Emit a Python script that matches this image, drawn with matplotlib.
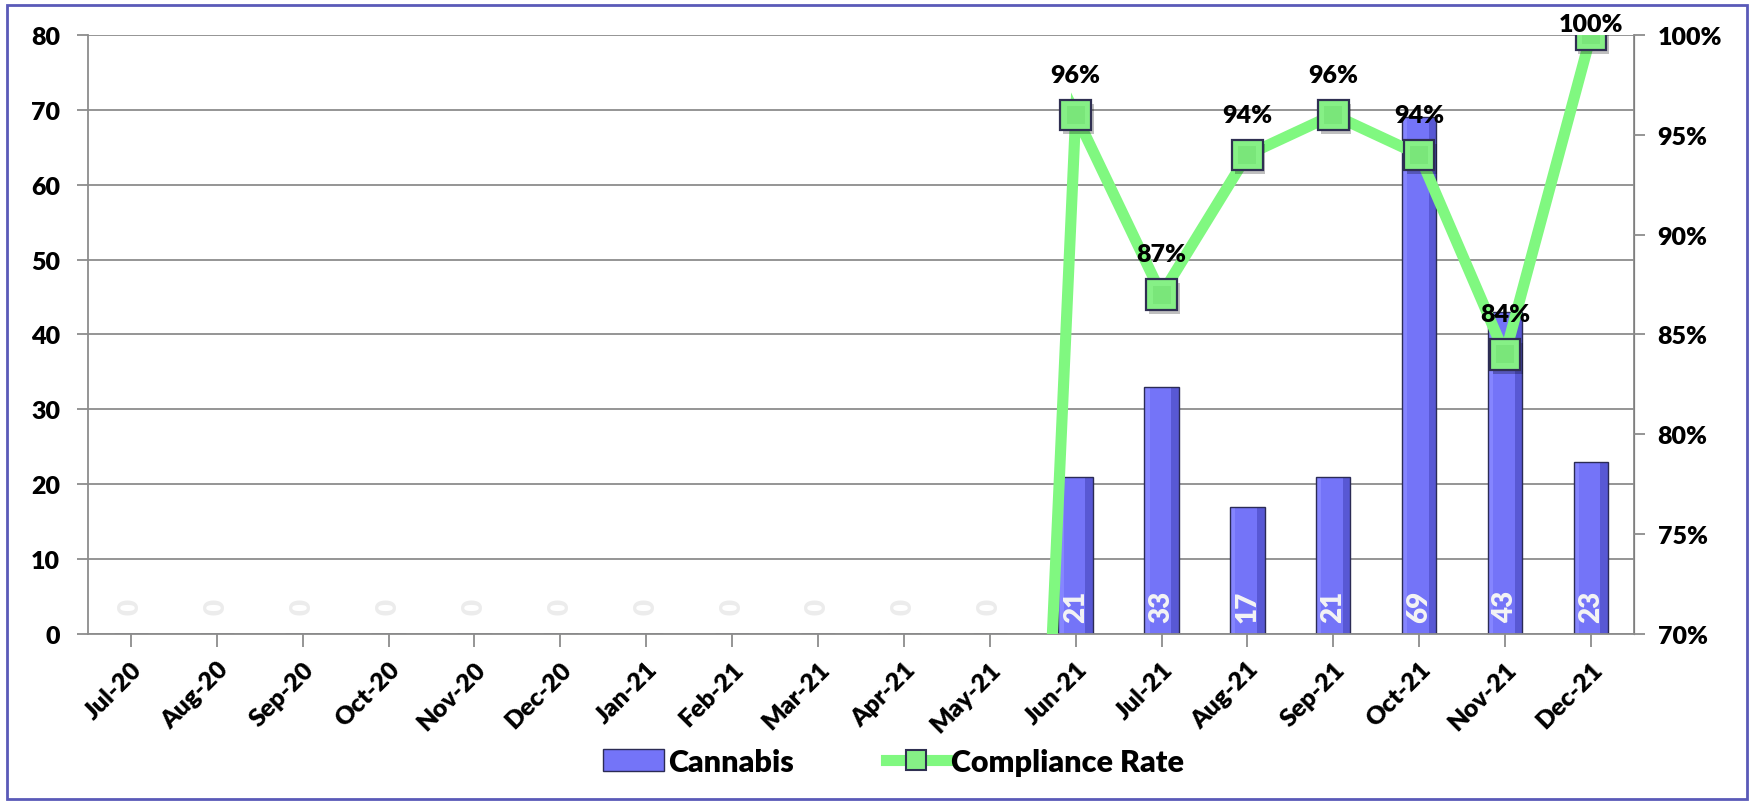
import matplotlib
matplotlib.use("Agg")
import matplotlib.pyplot as plt
from matplotlib.patches import Rectangle
from matplotlib.lines import Line2D
import matplotlib.patheffects as pe
import numpy as np

plt.rcParams['font.family'] = ['Lato', 'DejaVu Sans']
plt.rcParams['font.weight'] = 'heavy'
WEIGHT = 'heavy'

months = ["Jul-20", "Aug-20", "Sep-20", "Oct-20", "Nov-20", "Dec-20", "Jan-21",
          "Feb-21", "Mar-21", "Apr-21", "May-21", "Jun-21", "Jul-21", "Aug-21",
          "Sep-21", "Oct-21", "Nov-21", "Dec-21"]
cannabis = [0, 0, 0, 0, 0, 0, 0, 0, 0, 0, 0, 21, 33, 17, 21, 69, 43, 23]
compliance = [0, 0, 0, 0, 0, 0, 0, 0, 0, 0, 0, 96, 87, 94, 96, 94, 84, 100]
left_ticks = [0, 10, 20, 30, 40, 50, 60, 70, 80]
right_ticks = [70, 75, 80, 85, 90, 95, 100]

BAR = "#7474F8"
BAR_DARK = "#5858D4"
BAR_LIGHT = "#8585FF"
LINE = "#80F880"
MARK = "#86F086"
GRID = "#8c8c8c"

fig = plt.figure(figsize=(17.52, 8.03), dpi=100)
ax = fig.add_axes([0.0502, 0.2092, 0.8824, 0.7460])
ax2 = ax.twinx()

x = np.arange(len(months))
w = 0.40

ax.set_xlim(-0.5, len(months) - 0.5)
ax.set_ylim(0, 80)
ax.set_yticks(left_ticks)
ax.yaxis.grid(True, color=GRID, lw=1.3)
ax.set_axisbelow(True)

# bars with a simple bevel: light left strip, dark right strip
ax.bar(x, cannabis, width=w, color=BAR, lw=0, zorder=2)
ax.bar(x + w / 2 - 0.09, cannabis, width=0.09, align='edge', color=BAR_DARK, lw=0, zorder=2.1)
ax.bar(x - w / 2, cannabis, width=0.06, align='edge', color=BAR_LIGHT, lw=0, zorder=2.1)
ax.bar(x, cannabis, width=w, color='none', edgecolor="#2b2b55", lw=1.0, zorder=2.2)

for xi, v in zip(x, cannabis):
    col = "#ececec" if v == 0 else "#f4f4f4"
    ax.text(xi, 3.8, f"{v}", rotation=90, ha='center', va='center',
            color=col, fontsize=20, fontweight=WEIGHT, zorder=3)

ax.set_xticks(x)
ax.set_xticklabels(months, rotation=45, ha='right', rotation_mode='anchor',
                   fontsize=18, fontweight=WEIGHT)
ax.tick_params(axis='x', length=9, color=GRID, width=1.3, pad=8)
ax.tick_params(axis='y', length=8, color=GRID, width=1.3, labelsize=18, pad=12)
for lab in ax.get_yticklabels():
    lab.set_fontweight(WEIGHT)

ax.spines['top'].set_visible(False)
ax2.spines['top'].set_visible(False)
for sp in [ax.spines['left'], ax.spines['bottom'], ax2.spines['right']]:
    sp.set_color(GRID)
    sp.set_linewidth(1.3)
ax2.spines['left'].set_visible(False)
ax2.spines['bottom'].set_visible(False)

ax2.set_ylim(70, 100)
ax2.set_yticks(right_ticks)
ax2.set_yticklabels([f"{t}%" for t in right_ticks], fontsize=18, fontweight=WEIGHT)
ax2.tick_params(axis='y', length=8, color=GRID, width=1.3, pad=9)

ax2.plot(x, compliance, color=LINE, lw=8, solid_joinstyle='miter', zorder=4)
shadow = [pe.SimplePatchShadow(offset=(2, -3), shadow_rgbFace='#000000', alpha=0.25),
          pe.Normal()]
ax2.plot(x, compliance, ls='none', marker='s', markersize=22, markerfacecolor=MARK,
         markeredgecolor="#2f2f52", markeredgewidth=1.6, zorder=5, clip_on=True,
         path_effects=shadow)
ax2.plot(x, compliance, ls='none', marker='s', markersize=13, markerfacecolor="#7ae67a",
         markeredgewidth=0, zorder=5.1, clip_on=True)

# keep value labels inside the figure: labels near the top are pulled down
pts_per_unit = ax.get_position().height * fig.get_figheight() * 72 / 30.0
for xi, v in zip(x, compliance):
    if v > 0:
        off = min(29, (100 - v) * pts_per_unit + 8)
        ax2.annotate(f"{v}%", (xi, v), xytext=(0, off), textcoords='offset points',
                     ha='center', va='center', fontsize=18, fontweight=WEIGHT,
                     color='black', zorder=6, annotation_clip=False)

# legend
handles = [Rectangle((0, 0), 1, 1, facecolor=BAR, edgecolor="#2b2b55", lw=1.0),
           Line2D([0], [0], color=LINE, lw=8, marker='s', markersize=15,
                  markerfacecolor=MARK, markeredgecolor="#2f2f52", markeredgewidth=1.5)]
fig.legend(handles, ["Cannabis", "Compliance Rate"], loc='center',
           bbox_to_anchor=(0.510, 0.050), ncol=2, frameon=False,
           prop={'size': 22, 'weight': WEIGHT}, handlelength=2.0, handletextpad=0.15,
           columnspacing=3.0)

# figure border
fig.add_artist(Rectangle((0.004, 0.004), 0.993, 0.989, transform=fig.transFigure,
                         fill=False, edgecolor="#5a5ab8", lw=2.0))

fig.savefig("out.png", dpi=100)
